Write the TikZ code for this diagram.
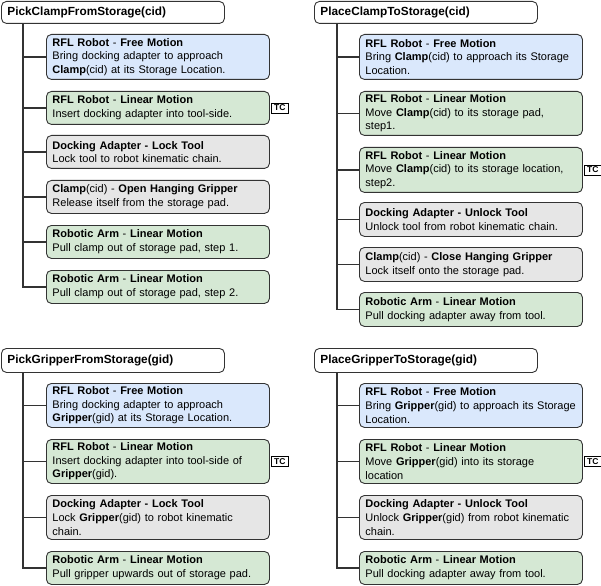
\documentclass[tikz,border=0pt]{standalone}
\usepackage{fontspec}
\setmainfont{Liberation Sans}
\usetikzlibrary{positioning}
\definecolor{fmblue}{HTML}{DAE8FC}
\definecolor{lmgreen}{HTML}{D5E8D4}
\definecolor{lkgray}{HTML}{E6E6E6}
\definecolor{edge}{HTML}{333333}
\tikzset{bx/.style = {rectangle, draw=edge, line width=0.9pt, rounded corners=5pt, anchor=north west,
                      text width=211pt, inner xsep=6pt, inner ysep=2pt, align=left,
                      font=\fontsize{11}{13.7}\selectfont},
           ti/.style = {bx, fill=white, minimum height=22pt, font=\bfseries\fontsize{11.8}{13}\selectfont},
           fm/.style = {bx, fill=fmblue},
           lm/.style = {bx, fill=lmgreen},
           lk/.style = {bx, fill=lkgray},
           tc/.style = {rectangle, draw=black, line width=0.8pt, inner sep=1pt, minimum width=17pt, minimum height=10pt,
                        font=\bfseries\fontsize{8.5}{9}\selectfont},
           ln/.style = {draw=edge, line width=1.3pt}}

\begin{document}
\begin{tikzpicture}[x=1pt, y=-1pt]
    \useasboundingbox (0,0) rectangle (601,585);
    \node[ti, minimum height=22pt] (t1) at (1,1) {PickClampFromStorage(cid)};
    \node[fm, minimum height=45pt] (a1) at (46,34) {\textbf{RFL Robot} - \textbf{Free Motion}\\Bring docking adapter to approach\\\textbf{Clamp}(cid) at its Storage Location.};
    \node[lm, minimum height=33pt] (a2) at (46,91) {\textbf{RFL Robot} - \textbf{Linear Motion}\\Insert docking adapter into tool-side.};
    \node[lk, minimum height=33pt] (a3) at (46,135) {\textbf{Docking Adapter - Lock Tool}\\Lock tool to robot kinematic chain.};
    \node[lk, minimum height=33pt] (a4) at (46,180) {\textbf{Clamp}(cid) - \textbf{Open Hanging Gripper}\\Release itself from the storage pad.};
    \node[lm, minimum height=33pt] (a5) at (46,225) {\textbf{Robotic Arm} - \textbf{Linear Motion}\\Pull clamp out of storage pad, step 1.};
    \node[lm, minimum height=33pt] (a6) at (46,270) {\textbf{Robotic Arm} - \textbf{Linear Motion}\\Pull clamp out of storage pad, step 2.};
    \node[tc, right=1pt of a2] (a2tc) {TC};

    \node[ti, minimum height=22pt] (t2) at (314,1) {PlaceClampToStorage(cid)};
    \node[fm, minimum height=45pt] (b1) at (359,34) {\textbf{RFL Robot} - \textbf{Free Motion}\\Bring \textbf{Clamp}(cid) to approach its Storage\\Location.};
    \node[lm, minimum height=44pt] (b2) at (359,91) {\textbf{RFL Robot} - \textbf{Linear Motion}\\Move \textbf{Clamp}(cid) to its storage pad,\\step1.};
    \node[lm, minimum height=45pt] (b3) at (359,147) {\textbf{RFL Robot} - \textbf{Linear Motion}\\Move \textbf{Clamp}(cid) to its storage location,\\step2.};
    \node[lk, minimum height=34pt] (b4) at (359,202) {\textbf{Docking Adapter - Unlock Tool}\\Unlock tool from robot kinematic chain.};
    \node[lk, minimum height=34pt] (b5) at (359,247) {\textbf{Clamp}(cid) - \textbf{Close Hanging Gripper}\\Lock itself onto the storage pad.};
    \node[lm, minimum height=34pt] (b6) at (359,292) {\textbf{Robotic Arm} - \textbf{Linear Motion}\\Pull docking adapter away from tool.};
    \node[tc, right=1pt of b3] (b3tc) {TC};

    \node[ti, minimum height=24pt] (t3) at (1,348) {PickGripperFromStorage(gid)};
    \node[fm, minimum height=44pt] (c1) at (46,383) {\textbf{RFL Robot} - \textbf{Free Motion}\\Bring docking adapter to approach\\\textbf{Gripper}(gid) at its Storage Location.};
    \node[lm, minimum height=44pt] (c2) at (46,439) {\textbf{RFL Robot} - \textbf{Linear Motion}\\Insert docking adapter into tool-side of\\\textbf{Gripper}(gid).};
    \node[lk, minimum height=44pt] (c3) at (46,495) {\textbf{Docking Adapter - Lock Tool}\\Lock \textbf{Gripper}(gid) to robot kinematic\\chain.};
    \node[lm, minimum height=33pt] (c4) at (46,551) {\textbf{Robotic Arm} - \textbf{Linear Motion}\\Pull gripper upwards out of storage pad.};
    \node[tc, right=1pt of c2] (c2tc) {TC};

    \node[ti, minimum height=24pt] (t4) at (314,348) {PlaceGripperToStorage(gid)};
    \node[fm, minimum height=44pt] (d1) at (359,383) {\textbf{RFL Robot} - \textbf{Free Motion}\\Bring \textbf{Gripper}(gid) to approach its Storage\\Location.};
    \node[lm, minimum height=44pt] (d2) at (359,439) {\textbf{RFL Robot} - \textbf{Linear Motion}\\Move \textbf{Gripper}(gid) into its storage\\location};
    \node[lk, minimum height=44pt] (d3) at (359,495) {\textbf{Docking Adapter - Unlock Tool}\\Unlock \textbf{Gripper}(gid) from robot kinematic\\chain.};
    \node[lm, minimum height=33pt] (d4) at (359,551) {\textbf{Robotic Arm} - \textbf{Linear Motion}\\Pull docking adapter away from tool.};
    \node[tc, right=1pt of d2] (d2tc) {TC};

    \foreach \n in {1,...,6} \draw[ln] ([xshift=22pt]t1.south west) |- (a\n.west);
    \foreach \n in {1,...,6} \draw[ln] ([xshift=23pt]t2.south west) |- (b\n.west);
    \foreach \n in {1,...,4} \draw[ln] ([xshift=22pt]t3.south west) |- (c\n.west);
    \foreach \n in {1,...,4} \draw[ln] ([xshift=23pt]t4.south west) |- (d\n.west);
  \end{tikzpicture}
\end{document}
